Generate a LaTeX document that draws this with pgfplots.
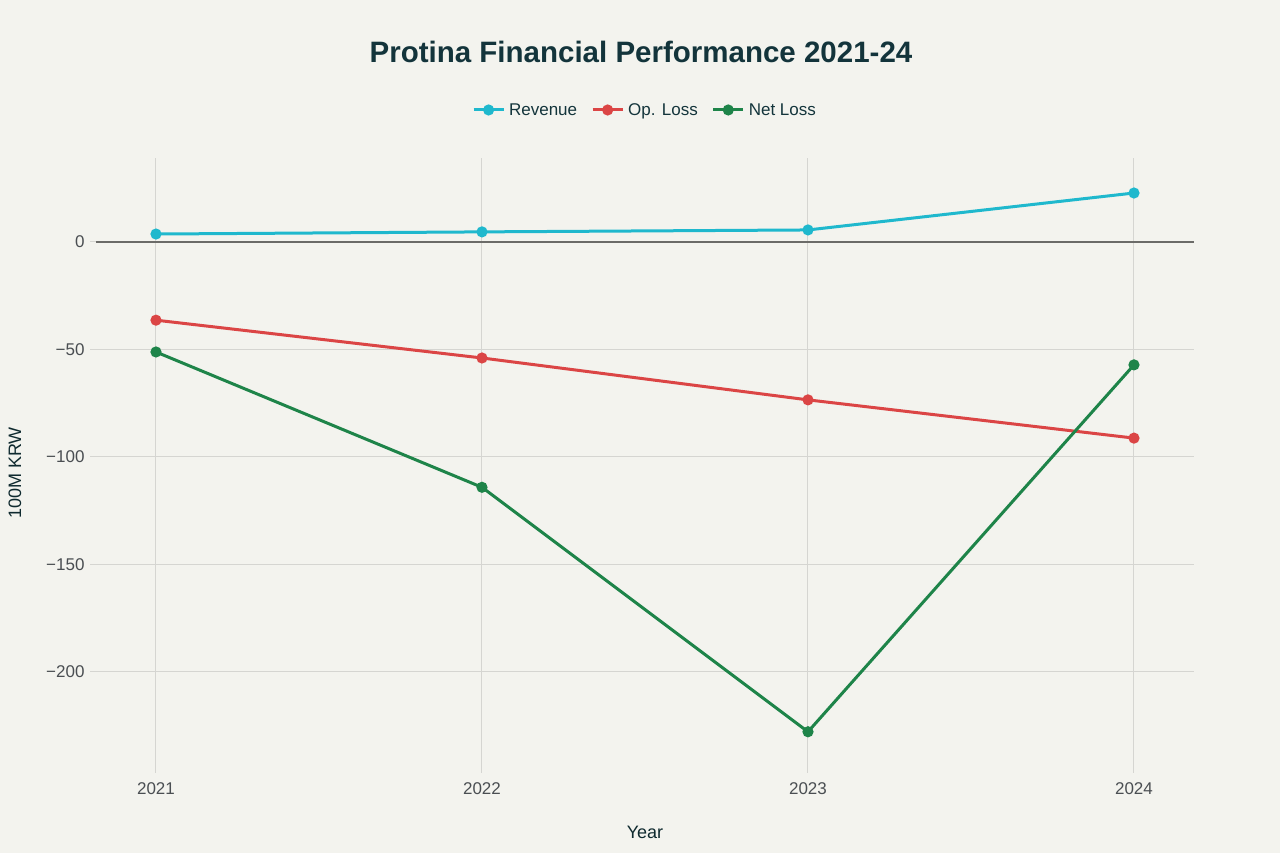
\documentclass[border=0pt]{standalone}
\usepackage{fontspec}
\setmainfont{Liberation Sans}
\usepackage{pgfplots}
\pgfplotsset{compat=1.18}
\definecolor{bg}{HTML}{F3F3EE}
\definecolor{gridc}{HTML}{D5D5D1}
\definecolor{zeroc}{HTML}{6B6B68}
\definecolor{titlec}{HTML}{13343B}
\definecolor{tickc}{HTML}{4A4E52}
\definecolor{rev}{HTML}{1FB8CD}
\definecolor{oploss}{HTML}{DB4545}
\definecolor{netloss}{HTML}{1E8449}

\begin{document}
\begin{tikzpicture}[x=1pt,y=1pt]
\fill[bg] (0,0) rectangle (1280,853);
\useasboundingbox (0,0) rectangle (1280,853);

% title and axis labels
\node[font=\bfseries\fontsize{29.5}{34}\selectfont, text=titlec] at (641,801) {Protina Financial Performance 2021-24};
\node[font=\fontsize{18}{22}\selectfont, text=titlec!80!black, rotate=90] at (15,380) {100M KRW};
\node[font=\fontsize{18}{22}\selectfont, text=titlec!80!black] at (645,21) {Year};

\begin{axis}[
    at={(96pt,86pt)}, anchor=south west,
    scale only axis,
    width=1098pt, height=609pt,
    xmin=2020.816, xmax=2024.184,
    ymin=-244.4, ymax=39.1,
    axis line style={draw=none},
    xtick={2021,2022,2023,2024},
    xticklabels={2021,2022,2023,2024},
    ytick={-200,-150,-100,-50,0},
    yticklabels={−200,−150,−100,−50,0},
    xtick pos=bottom, ytick pos=left,
    tick align=outside,
    major tick length=6pt,
    tick style={color=gridc, line width=1pt},
    grid=major,
    grid style={color=gridc, line width=1pt},
    ticklabel style={font=\fontsize{17}{20}\selectfont, text=tickc},
    xticklabel style={yshift=-6pt},
    yticklabel style={xshift=-2pt},
    legend columns=3,
    legend style={at={(0.5,1)}, anchor=center, yshift=48pt, draw=none, fill=none,
        font=\fontsize{17}{20}\selectfont, text=titlec,
        /tikz/every odd column/.append style={column sep=2pt},
        /tikz/every even column/.append style={column sep=12pt}},
    legend image code/.code={
        \draw[#1, line width=3pt] (0pt,0pt) -- (30pt,0pt);
        \fill[#1] (15pt,0pt) circle (4pt);
    },
]
\addplot[forget plot, zeroc, line width=1.6pt] coordinates {(2020.816,0) (2024.184,0)};

\addplot[rev, line width=3pt, mark=*, mark size=4pt] coordinates {
    (2021,3.7) (2022,4.7) (2023,5.6) (2024,22.8)};
\addlegendentry{Revenue}

\addplot[oploss, line width=3pt, mark=*, mark size=4pt] coordinates {
    (2021,-36.4) (2022,-54.0) (2023,-73.5) (2024,-91.3)};
\addlegendentry{Op. Loss}

\addplot[netloss, line width=3pt, mark=*, mark size=4pt] coordinates {
    (2021,-51.2) (2022,-114.2) (2023,-228.0) (2024,-57.2)};
\addlegendentry{Net Loss}
\end{axis}
\end{tikzpicture}
\end{document}
